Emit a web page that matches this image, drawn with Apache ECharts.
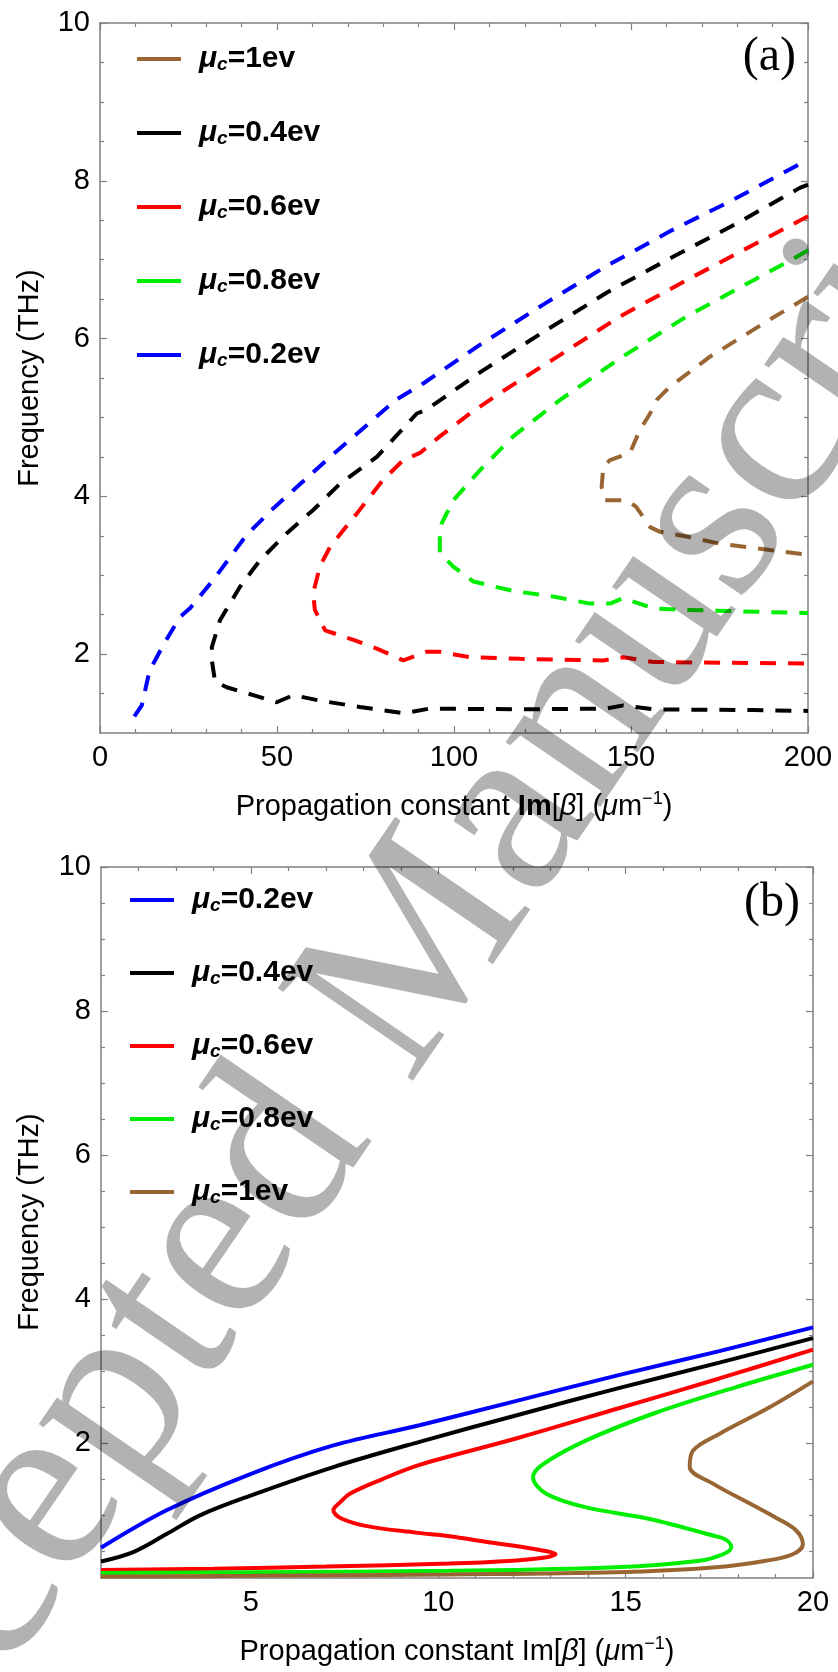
<!DOCTYPE html>
<html>
<head>
<meta charset="utf-8">
<title>Dispersion curves</title>
<script src="https://cdn.jsdelivr.net/npm/echarts@6/dist/echarts.min.js"></script>
<style>
  html, body { margin: 0; padding: 0; background: #fff; }
  #chart { width: 838px; height: 1672px; }
</style>
</head>
<body>
<div id="chart"></div>
<script>
  // panel (a), dashed curves: [Im(beta) 1/um, frequency THz]
  const aBlue = [[9.7,1.21],[11.8,1.35],[13.6,1.71],[14.6,1.84],[17.8,2.11],[22.6,2.47],[25.4,2.58],[32,2.94],[41.4,3.51],[49,3.85],[65,4.5],[83.8,5.23],[91.3,5.43],[107.3,5.92],[125.2,6.43],[142.7,6.91],[161,7.36],[178.9,7.76],[200,8.27]]
  const aBlack = [[200,7.95],[197.7,7.91],[179.9,7.46],[162,7.04],[143.1,6.58],[126.2,6.11],[108.3,5.6],[92.3,5.1],[89.5,5.05],[78.2,4.5],[67.8,4.16],[60.3,3.83],[52.7,3.53],[45.2,3.19],[39.5,2.85],[33.9,2.43],[31.6,2.09],[31.6,1.92],[32.5,1.65],[35.8,1.58],[43.3,1.48],[49.9,1.39],[54.6,1.48],[62.1,1.41],[73.4,1.33],[85.7,1.25],[93.2,1.31],[118.7,1.3],[143.1,1.31],[147.8,1.35],[156.3,1.3],[184.6,1.29],[200,1.28]]
  const aRed = [[200,7.55],[195.4,7.44],[184.6,7.19],[165.7,6.74],[146.9,6.28],[129.9,5.79],[113,5.31],[104.5,5.05],[96,4.76],[90.4,4.55],[85.7,4.46],[80,4.21],[72.5,3.78],[65,3.36],[62.1,3.11],[60.2,2.77],[60.7,2.56],[63.6,2.3],[71.6,2.18],[78.2,2.07],[85.7,1.92],[92.3,2.03],[96,2.03],[104.5,1.96],[118.7,1.94],[142.2,1.92],[147.8,1.96],[156.3,1.9],[200,1.88]]
  const aGreen = [[200,7.12],[195.4,7.0],[184.6,6.74],[165.7,6.28],[146.9,5.75],[129.9,5.22],[116.7,4.76],[107.3,4.33],[99.8,3.95],[96,3.61],[96,3.28],[99.8,3.11],[105.5,2.92],[116.7,2.8],[128,2.73],[138.4,2.64],[144.1,2.64],[147.8,2.71],[156.3,2.58],[165.7,2.56],[200,2.52]]
  const aBrown = [[200,6.53],[189.2,6.24],[172.3,5.77],[161,5.39],[157.2,5.22],[155.4,5.05],[152.5,4.84],[149.7,4.55],[144.1,4.46],[142.2,4.38],[141.7,4.12],[142.7,3.95],[148.7,3.95],[151.4,3.87],[155.4,3.61],[158.2,3.55],[165.7,3.49],[175.1,3.4],[189.2,3.32],[200,3.26]]

  // panel (b), solid curves
  const bBlue = [[1,0.55],[2.75,1.07],[4.97,1.57],[7.2,1.97],[9.5,2.25],[12.17,2.6],[14.84,2.95],[17.5,3.28],[20,3.61]]
  const bBlack = [[1,0.36],[1.86,0.49],[2.75,0.74],[3.64,1.0],[4.97,1.27],[7.2,1.67],[9.5,2.02],[12.17,2.4],[14.84,2.77],[17.5,3.12],[20,3.46]]
  const bRed = [[1,0.24],[4,0.26],[7,0.29],[10.3,0.33],[12,0.37],[12.8,0.41],[13.13,0.46],[12.6,0.53],[11.3,0.63],[10.3,0.71],[9.4,0.76],[8.1,0.85],[7.4,0.96],[7.2,1.07],[7.4,1.19],[7.64,1.3],[8.5,1.5],[9.5,1.7],[12.17,2.08],[14.84,2.49],[17.5,2.9],[20,3.3]]
  const bGreen = [[1,0.2],[5,0.21],[10.31,0.23],[14.75,0.28],[16.97,0.37],[17.6,0.46],[17.82,0.56],[17.68,0.66],[17.33,0.72],[15.64,0.95],[13.95,1.11],[12.88,1.3],[12.53,1.53],[12.8,1.71],[13.95,2.04],[15.73,2.41],[17.95,2.78],[20,3.09]]
  const bBrown = [[1,0.15],[5,0.16],[10.31,0.18],[14.75,0.21],[17.42,0.28],[18.75,0.37],[19.46,0.46],[19.73,0.6],[19.55,0.79],[19.0,0.97],[18.4,1.14],[17.33,1.44],[16.71,1.67],[16.8,1.9],[17.5,2.13],[18.84,2.5],[20,2.86]]

  // ticks
  const aXMajor = [0, 50, 100, 150, 200]
  const aXMinor = [10, 20, 30, 40, 60, 70, 80, 90, 110, 120, 130, 140, 160, 170, 180, 190]
  const aYMajor = [2, 4, 6, 8, 10]
  const aYMinor = [1.5, 2.5, 3, 3.5, 4.5, 5, 5.5, 6.5, 7, 7.5, 8.5, 9, 9.5]
  const bXMajor = [5, 10, 15, 20]
  const bXMinor = [2, 3, 4, 6, 7, 8, 9, 11, 12, 13, 14, 16, 17, 18, 19]
  const bYMajor = [2, 4, 6, 8, 10]
  const bYMinor = [0.5, 1, 1.5, 2.5, 3, 3.5, 4.5, 5, 5.5, 6.5, 7, 7.5, 8.5, 9, 9.5]

  const legendA = ['1ev', '0.4ev', '0.6ev', '0.8ev', '0.2ev']
  const legendB = ['0.2ev', '0.4ev', '0.6ev', '0.8ev', '1ev']

  const colors = {'0.2ev': '#0000ff', '0.4ev': '#000000', '0.6ev': '#ff0000', '0.8ev': '#00ee00', '1ev': '#996633'}
  const frame = '#808080'
  const sans = 'Liberation Sans'

  function axis(grid, pos, min, max, ticks, len, withLine, labels) {
    return {
      type: 'value', gridIndex: grid, position: pos, min: min, max: max,
      axisLine: {show: withLine, onZero: false, lineStyle: {color: frame, width: 1.5}},
      axisTick: {show: true, inside: true, length: len, customValues: ticks, lineStyle: {color: frame, width: 1.2}},
      axisLabel: labels ? {show: true, customValues: labels, color: '#000', fontFamily: sans, fontSize: 29, margin: 10} : {show: false},
      splitLine: {show: false}
    }
  }

  const nameRich = {
    r: {fontFamily: sans, fontSize: 29, color: '#000', lineHeight: 34},
    b: {fontFamily: sans, fontSize: 29, color: '#000', lineHeight: 34, fontWeight: 'bold'},
    i: {fontFamily: sans, fontSize: 29, color: '#000', lineHeight: 34, fontStyle: 'italic'},
    s: {fontFamily: sans, fontSize: 18, color: '#000', lineHeight: 18, verticalAlign: 'top'}
  }

  const xAxes = [
    Object.assign(axis(0, 'bottom', 0, 200, aXMajor, 7, true, aXMajor), {
      name: '{r|Propagation constant }{b|Im}{r|[}{i|β}{r|] (}{i|μ}{r|m}{s|−1}{r|)}',
      nameLocation: 'middle', nameGap: 57, nameTextStyle: {rich: nameRich}}),
    axis(0, 'bottom', 0, 200, aXMinor, 4, false),
    axis(0, 'top', 0, 200, aXMajor, 7, true),
    axis(0, 'top', 0, 200, aXMinor, 4, false),
    Object.assign(axis(1, 'bottom', 1, 20, bXMajor, 7, true, bXMajor), {
      name: '{r|Propagation constant Im[}{i|β}{r|] (}{i|μ}{r|m}{s|−1}{r|)}',
      nameLocation: 'middle', nameGap: 57, nameTextStyle: {rich: nameRich}}),
    axis(1, 'bottom', 1, 20, bXMinor, 4, false),
    axis(1, 'top', 1, 20, bXMajor, 7, true),
    axis(1, 'top', 1, 20, bXMinor, 4, false)
  ]
  const yAxes = [
    axis(0, 'left', 1, 10, aYMajor, 7, true, aYMajor),
    axis(0, 'left', 1, 10, aYMinor, 4, false),
    axis(0, 'right', 1, 10, aYMajor, 7, true),
    axis(0, 'right', 1, 10, aYMinor, 4, false),
    axis(1, 'left', 0.13, 10, bYMajor, 7, true, bYMajor),
    axis(1, 'left', 0.13, 10, bYMinor, 4, false),
    axis(1, 'right', 0.13, 10, bYMajor, 7, true),
    axis(1, 'right', 0.13, 10, bYMinor, 4, false)
  ]

  function dashed(name, data) {
    return {name: name, type: 'line', xAxisIndex: 0, yAxisIndex: 0, data: data, showSymbol: false,
      color: colors[name], lineStyle: {width: 4, type: [16, 12], color: colors[name]}, z: 3}
  }
  function solid(name, data) {
    return {name: name, type: 'line', xAxisIndex: 4, yAxisIndex: 4, data: data, showSymbol: false, smooth: 0.35,
      color: colors[name], lineStyle: {width: 4, color: colors[name]}, z: 3}
  }

  const legendRich = {
    m: {fontFamily: sans, fontSize: 30, fontWeight: 'bold', fontStyle: 'italic', color: '#000', lineHeight: 30, padding: [0, 0, 0, 13]},
    c: {fontFamily: sans, fontSize: 19, fontWeight: 'bold', fontStyle: 'italic', color: '#000', lineHeight: 18, verticalAlign: 'bottom'},
    t: {fontFamily: sans, fontSize: 30, fontWeight: 'bold', color: '#000', lineHeight: 30}
  }
  function legend(left, top, gap, data) {
    return {
      left: left, top: top, orient: 'vertical', itemGap: gap, padding: 0, data: data, selectedMode: false,
      icon: 'rect', itemWidth: 44, itemHeight: 4,
      formatter: n => '{m|μ}{c|c}{t|=' + n + '}',
      textStyle: {rich: legendRich}
    }
  }

  function yTitle(cy) {
    return {type: 'text', x: 30, y: cy, rotation: Math.PI / 2,
      style: {text: 'Frequency (THz)', font: '29px "Liberation Sans"', fill: '#000', textAlign: 'center', textVerticalAlign: 'middle'}}
  }

  const option = {
    backgroundColor: '#fff',
    animation: false,
    grid: [
      {left: 100, top: 23, width: 708, height: 710},
      {left: 101, top: 867, width: 712, height: 711}
    ],
    xAxis: xAxes,
    yAxis: yAxes,
    legend: [legend(137, 44, 44, legendA), legend(130, 885, 43, legendB)],
    series: [
      dashed('1ev', aBrown), dashed('0.4ev', aBlack), dashed('0.6ev', aRed), dashed('0.8ev', aGreen), dashed('0.2ev', aBlue),
      solid('0.2ev', bBlue), solid('0.4ev', bBlack), solid('0.6ev', bRed), solid('0.8ev', bGreen), solid('1ev', bBrown)
    ],
    graphic: [
      yTitle(378), yTitle(1222),
      {type: 'text', right: 42, top: 33, style: {text: '(a)', font: '48px "Liberation Serif"', fill: '#000'}},
      {type: 'text', right: 38, top: 879, style: {text: '(b)', font: '48px "Liberation Serif"', fill: '#000'}},
      {type: 'text', x: 392, y: 995, rotation: 55.6 * Math.PI / 180, z: 100,
        style: {text: 'Accepted Manuscript', font: '250px "Liberation Serif"', fill: 'rgba(0,0,0,0.3)',
          textAlign: 'center', textVerticalAlign: 'middle'}}
    ]
  }

  const myChart = echarts.init(document.getElementById('chart'))
  myChart.setOption(option)
</script>
</body>
</html>
